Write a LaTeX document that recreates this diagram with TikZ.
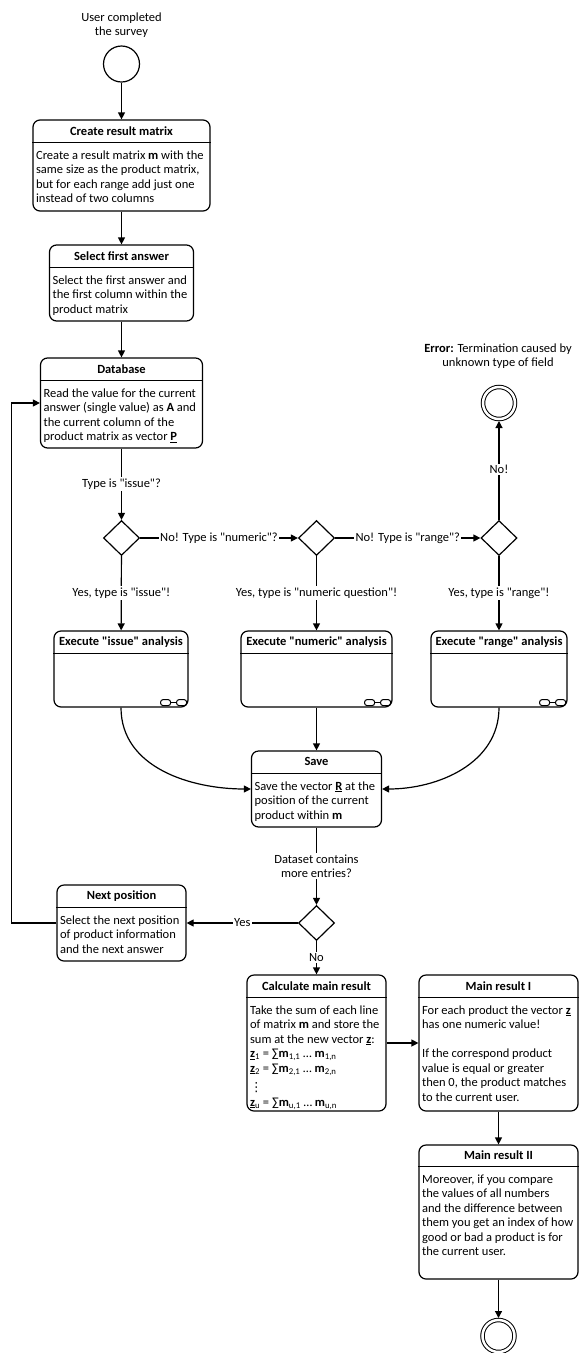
\documentclass[tikz,border=0pt]{standalone}
\usepackage{fontspec}
\setmainfont{Carlito}[Ligatures=TeXOff]
\newfontfamily\dejavu{DejaVu Sans}
\usepackage{tikz}
\usetikzlibrary{arrows.meta,shapes.geometric}

\begin{document}
\begin{tikzpicture}[x=1pt,y=-1pt,font=\fontsize{12.5}{14.5}\selectfont,
box/.style n args={2}{draw,rounded corners=7pt,line width=1.2pt,inner sep=0pt,minimum width=#1pt,minimum height=#2pt},
ttl/.style={font=\fontsize{12.5}{14.5}\selectfont\bfseries,inner sep=0pt},
body/.style={align=left,inner xsep=3.5pt,inner ysep=2.5pt,anchor=north west,yshift=-5.5pt},
sep/.style={line width=1pt},
lbl/.style={fill=white,inner sep=1.5pt,align=center},
arr/.style={line width=1.2pt,-{Triangle[length=7pt,width=7pt]}},
dec/.style={diamond,draw,line width=1.2pt,minimum width=36pt,minimum height=35pt,inner sep=0pt},
init/.style={circle,draw,line width=1.2pt,minimum size=36pt,inner sep=0pt},
final/.style={circle,draw,line width=1pt,double,double distance=2.5pt,minimum size=32pt,inner sep=0pt}]
\useasboundingbox (0,0) rectangle (580,1353);

\node[align=center] (starttxt) at (121.5,25) {User completed\\the survey};
\node[init] (start) at (121.5,64) {};

\node[box={177}{91}] (create) at (121.5,165.5) {};
\node[ttl] (create-t) at ([yshift=-11.5pt]create.north) {Create result matrix};
\draw[sep] ([yshift=-23pt]create.north west) -- ([yshift=-23pt]create.north east);
\node[body] (create-b) at ([yshift=-23pt]create.north west) {Create a result matrix \textbf{m} with the\\same size as the product matrix,\\but for each range add just one\\instead of two columns};

\node[box={144}{76}] (select) at (121.5,283) {};
\node[ttl] (select-t) at ([yshift=-11.5pt]select.north) {Select first answer};
\draw[sep] ([yshift=-23pt]select.north west) -- ([yshift=-23pt]select.north east);
\node[body] (select-b) at ([yshift=-23pt]select.north west) {Select the first answer and\\the first column within the\\product matrix};

\node[box={162}{90}] (db) at (121.5,403) {};
\node[ttl] (db-t) at ([yshift=-11.5pt]db.north) {Database};
\draw[sep] ([yshift=-23pt]db.north west) -- ([yshift=-23pt]db.north east);
\node[body] (db-b) at ([yshift=-23pt]db.north west) {Read the value for the current\\answer (single value) as \textbf{A} and\\the current column of the\\product matrix as vector \underline{\textbf{P}}};

\node[dec] (d1) at (121.5,538) {};
\node[dec] (d2) at (316.5,538) {};
\node[dec] (d3) at (499,538) {};
\node[final] (err) at (499,403) {};
\node[align=center] (errtxt) at (498,356) {\textbf{Error:} Termination caused by\\unknown type of field};

\node[box={134}{76}] (issue) at (121,669) {};
\node[ttl] (issue-t) at ([yshift=-11.5pt]issue.north) {Execute "issue" analysis};
\draw[sep] ([yshift=-23pt]issue.north west) -- ([yshift=-23pt]issue.north east);

\node[box={151}{76}] (numeric) at (316.5,669) {};
\node[ttl] (numeric-t) at ([yshift=-11.5pt]numeric.north) {Execute "numeric" analysis};
\draw[sep] ([yshift=-23pt]numeric.north west) -- ([yshift=-23pt]numeric.north east);

\node[box={136}{76}] (range) at (499,669) {};
\node[ttl] (range-t) at ([yshift=-11.5pt]range.north) {Execute "range" analysis};
\draw[sep] ([yshift=-23pt]range.north west) -- ([yshift=-23pt]range.north east);

\foreach \n in {issue,numeric,range}{
  \draw[line width=1pt,rounded corners=2.5pt] ([xshift=-28pt,yshift=2pt]\n.south east) rectangle ++(10pt,6pt);
  \draw[line width=1pt,rounded corners=2.5pt] ([xshift=-12pt,yshift=2pt]\n.south east) rectangle ++(10pt,6pt);
  \draw[line width=1pt] ([xshift=-18pt,yshift=5pt]\n.south east) -- ([xshift=-12pt,yshift=5pt]\n.south east);
}

\node[box={130}{76}] (save) at (316.5,789) {};
\node[ttl] (save-t) at ([yshift=-11.5pt]save.north) {Save};
\draw[sep] ([yshift=-23pt]save.north west) -- ([yshift=-23pt]save.north east);
\node[body] (save-b) at ([yshift=-23pt]save.north west) {Save the vector \underline{\textbf{R}} at the\\position of the current\\product within \textbf{m}};

\node[dec] (d4) at (316.5,923) {};

\node[box={129}{76}] (next) at (121.5,923) {};
\node[ttl] (next-t) at ([yshift=-11.5pt]next.north) {Next position};
\draw[sep] ([yshift=-23pt]next.north west) -- ([yshift=-23pt]next.north east);
\node[body] (next-b) at ([yshift=-23pt]next.north west) {Select the next position\\of product information\\and the next answer};

\node[box={139}{136}] (calc) at (316.5,1043) {};
\node[ttl] (calc-t) at ([yshift=-11.5pt]calc.north) {Calculate main result};
\draw[sep] ([yshift=-23pt]calc.north west) -- ([yshift=-23pt]calc.north east);
\node[body] (calc-b) at ([yshift=-23pt]calc.north west) {Take the sum of each line\\of matrix \textbf{m} and store the\\sum at the new vector \underline{\textbf{z}}:\\
\underline{\textbf{z}}\textsubscript{1} = ∑\textbf{m}\textsubscript{1,1} … \textbf{m}\textsubscript{1,n}\\
\underline{\textbf{z}}\textsubscript{2} = ∑\textbf{m}\textsubscript{2,1} … \textbf{m}\textsubscript{2,n}\\[5pt]
{\dejavu ⋮}\\
\underline{\textbf{z}}\textsubscript{u} = ∑\textbf{m}\textsubscript{u,1} … \textbf{m}\textsubscript{u,n}};

\node[box={159}{136}] (main1) at (498.5,1043) {};
\node[ttl] (main1-t) at ([yshift=-11.5pt]main1.north) {Main result I};
\draw[sep] ([yshift=-23pt]main1.north west) -- ([yshift=-23pt]main1.north east);
\node[body] (main1-b) at ([yshift=-23pt]main1.north west) {For each product the vector \underline{\textbf{z}}\\has one numeric value!\\[14.5pt]If the correspond product\\value is equal or greater\\then 0, the product matches\\to the current user.};

\node[box={159}{134}] (main2) at (498.5,1212) {};
\node[ttl] (main2-t) at ([yshift=-11pt]main2.north) {Main result II};
\draw[sep] ([yshift=-22pt]main2.north west) -- ([yshift=-22pt]main2.north east);
\node[body] (main2-b) at ([yshift=-22pt]main2.north west) {Moreover, if you compare\\the values of all numbers\\and the difference between\\them you get an index of how\\good or bad a product is for\\the current user.};

\node[final] (end) at (498.5,1336) {};

\draw[arr] (start) -- (create);
\draw[arr] (create) -- (select);
\draw[arr] (select) -- (db);
\draw[arr] (db) -- node[lbl] (l1) {Type is "issue"?} (d1);
\draw[arr] (d1) -- node[lbl] (l2) {No! Type is "numeric"?} (d2);
\draw[arr] (d2) -- node[lbl] (l3) {No! Type is "range"?} (d3);
\draw[arr,shorten >=1.5pt] (d3) -- node[lbl] (l4) {No!} (err);
\draw[arr] (d1) -- node[lbl] (l5) {Yes, type is "issue"!} (issue);
\draw[arr] (d2) -- node[lbl] (l6) {Yes, type is "numeric question"!} (numeric);
\draw[arr] (d3) -- node[lbl] (l7) {Yes, type is "range"!} (range);
\draw[arr] (issue.south) to[out=-90,in=180] (save.west);
\draw[arr] (numeric) -- (save);
\draw[arr] (range.south) to[out=-90,in=0] (save.east);
\draw[arr] (save) -- node[lbl] (l8) {Dataset contains\\more entries?} (d4);
\draw[arr] (d4) -- node[lbl] (l9) {Yes} (next);
\draw[arr] (next.west) -- ++(-45,0) |- (db.west);
\draw[arr] (d4) -- node[lbl] (l10) {No} (calc);
\draw[arr] (calc) -- (main1);
\draw[arr] (main1) -- (main2);
\draw[arr,shorten >=1.5pt] (main2) -- (end);
\end{tikzpicture}
\end{document}
